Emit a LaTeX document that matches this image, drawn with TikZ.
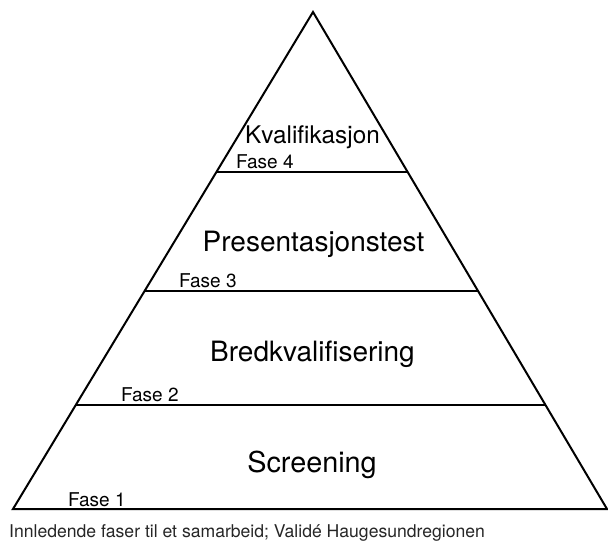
\documentclass[tikz,border=0pt]{standalone}
\usepackage{fontspec}
\setmainfont{TeX Gyre Heros}
\usetikzlibrary{calc, positioning}

\begin{document}
\begin{tikzpicture}[
    x=1pt, y=-1pt,
    edge/.style={line width=2pt, line join=miter},
    level/.style={line width=2pt},
    title/.style={anchor=base, inner sep=0pt, font=\fontsize{28}{34}\selectfont},
    phase/.style={anchor=base west, inner sep=0pt, font=\fontsize{19}{23}\selectfont},
    caption/.style={anchor=base west, inner sep=0pt, font=\fontsize{17.6}{21}\selectfont, text=black!85}
]
\useasboundingbox (0,0) rectangle (608,541);
% corners of the pyramid
\coordinate (top) at (313,12);
\coordinate (bl) at (13,509);
\coordinate (br) at (607,509);
\draw[edge] (bl) -- (top) -- (br) -- cycle;
% dividers
\coordinate (l4) at ($(top)!0.322!(bl)$);
\coordinate (r4) at ($(top)!0.322!(br)$);
\coordinate (l3) at ($(top)!0.561!(bl)$);
\coordinate (r3) at ($(top)!0.561!(br)$);
\coordinate (l2) at ($(top)!0.791!(bl)$);
\coordinate (r2) at ($(top)!0.791!(br)$);
\draw[level] (l4) -- (r4);
\draw[level] (l3) -- (r3);
\draw[level] (l2) -- (r2);
% layer names
\node [title, font=\fontsize{24.3}{29}\selectfont] (kval) at (312.5,143) {Kvalifikasjon};
\node [title] (pres) at (313.5,251) {Presentasjonstest};
\node [title] (bred) at (312.5,361) {Bredkvalifisering};
\node [title, font=\fontsize{28.8}{34}\selectfont] (scr) at (312,472) {Screening};
% phases
\node [phase] (f4) at (236,168) {Fase 4};
\node [phase] (f3) at (179,287) {Fase 3};
\node [phase] (f2) at (121,401) {Fase 2};
\node [phase] (f1) at (68,506) {Fase 1};
\node [caption] (cap) at (9,537) {Innledende faser til et samarbeid; Validé Haugesundregionen};
\end{tikzpicture}
\end{document}
